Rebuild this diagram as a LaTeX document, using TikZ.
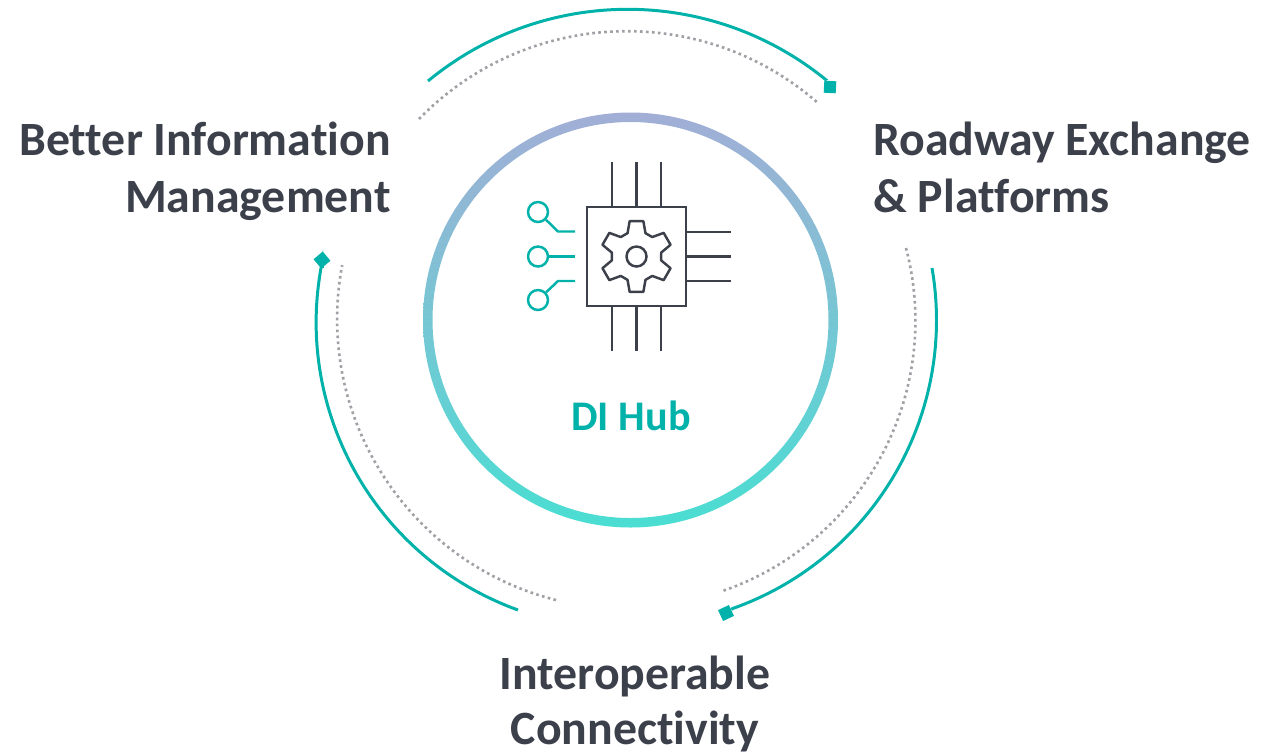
\documentclass[tikz,border=0pt]{standalone}
\usepackage{fontspec}
\usetikzlibrary{calc}
\setmainfont{Carlito}[Ligatures=NoCommon]
\definecolor{tealline}{RGB}{0,178,169}
\definecolor{darkline}{RGB}{60,64,74}
\definecolor{dotline}{RGB}{160,160,166}
\definecolor{ringtop}{RGB}{162,174,214}
\definecolor{ringbot}{RGB}{74,222,210}
\tikzset{
  solidarc/.style={draw=tealline,line width=1.7pt},
  dotarc/.style={draw=dotline,line width=1.5pt,dash pattern=on 1.5pt off 1.9pt},
  endmark/.style={rectangle,fill=tealline,inner sep=0pt,minimum size=.24cm},
  chipline/.style={draw=darkline,line width=1.4pt},
  tealwire/.style={draw=tealline,line width=1.4pt},
  pincircle/.style={circle,draw=tealline,line width=1.4pt,inner sep=0pt,minimum size=.4cm},
  sidelabel/.style={font=\fontsize{27.2}{32.4}\selectfont\bfseries,text=darkline,inner sep=0pt},
}
\begin{document}
\begin{tikzpicture}[x=.02cm,y=.02cm]
\useasboundingbox (0,0) rectangle (1268,-755);
\coordinate (C) at (630.5,-320);
\coordinate (G) at (636.5,-256.5);
\coordinate (L1) at (558,-231.5);
\coordinate (L2) at (575,-231.5);
\coordinate (L3) at (575,-256.5);
\coordinate (L4) at (558,-281);
\coordinate (L5) at (575,-281);

% ring
\shade[top color=ringtop,bottom color=ringbot,even odd rule] (C) circle (207.5) circle (198);

% outer arcs
\node[endmark,rotate=-3] (M1) at (830,-87) {};
\node[endmark,rotate=25] (M2) at (726,-613) {};
\node[endmark,rotate=40] (M3) at (322,-260) {};
\draw[solidarc] (428,-81) arc[start angle=129.5,end angle=50.7,radius=314] -- (M1);
\draw[dotarc] (419,-119) arc[start angle=135.8,end angle=49,radius=290];
\draw[solidarc] (932,-268) arc[start angle=9.8,end angle=-70.5,radius=306] -- (M2);
\draw[dotarc] (906,-248) arc[start angle=14.7,end angle=-71,radius=286];
\draw[solidarc] (518,-610) arc[start angle=250.1,end angle=168.7,radius=306] -- (M3);
\draw[dotarc] (556,-600) arc[start angle=255.8,end angle=169.3,radius=290];

% chip
\node[rectangle,chipline,inner sep=0pt,minimum size=1.98cm] (chip) at (G) {};
\foreach \d in {-24.5,0,24.5} {
  \draw[chipline] ([xshift=\d*.02cm]chip.north) --++(0,44);
  \draw[chipline] ([xshift=\d*.02cm]chip.south) --++(0,-44);
  \draw[chipline] ([yshift=\d*.02cm]chip.east) --++(44,0);
}
\draw[chipline,line join=round] ($(G)+(69:25)$)
  foreach \a in {90,150,...,390} {
    -- ($(G)+(\a-21:25)$) -- ($(G)+(\a-11:36)$) -- ($(G)+(\a+11:36)$) -- ($(G)+(\a+21:25)$)
  } -- cycle;
\node[circle,chipline,inner sep=0pt,minimum size=.4cm] (hole) at (G) {};

% teal pins
\node[pincircle] (P1) at (538,-212) {};
\node[pincircle] (P2) at (538,-256.5) {};
\node[pincircle] (P3) at (538,-300) {};
\draw[tealwire] (P1) -- (L1) -- (L2);
\draw[tealwire] (P2) -- (L3);
\draw[tealwire] (P3) -- (L4) -- (L5);

% labels
\node[font=\fontsize{24}{28}\selectfont\bfseries,text=tealline] (hub) at (631,-416) {DI Hub};
\node[sidelabel,anchor=north east,align=right] (info) at (391,-121.5) {Better Information\\Management};
\node[sidelabel,anchor=north west,align=left] (road) at (873,-121.5) {Roadway Exchange\\\& Platforms};
\node[sidelabel,font=\fontsize{27.2}{31.6}\selectfont\bfseries,anchor=north,align=center] (inter) at (635,-655.5) {Interoperable\\Connectivity};
\end{tikzpicture}
\end{document}
